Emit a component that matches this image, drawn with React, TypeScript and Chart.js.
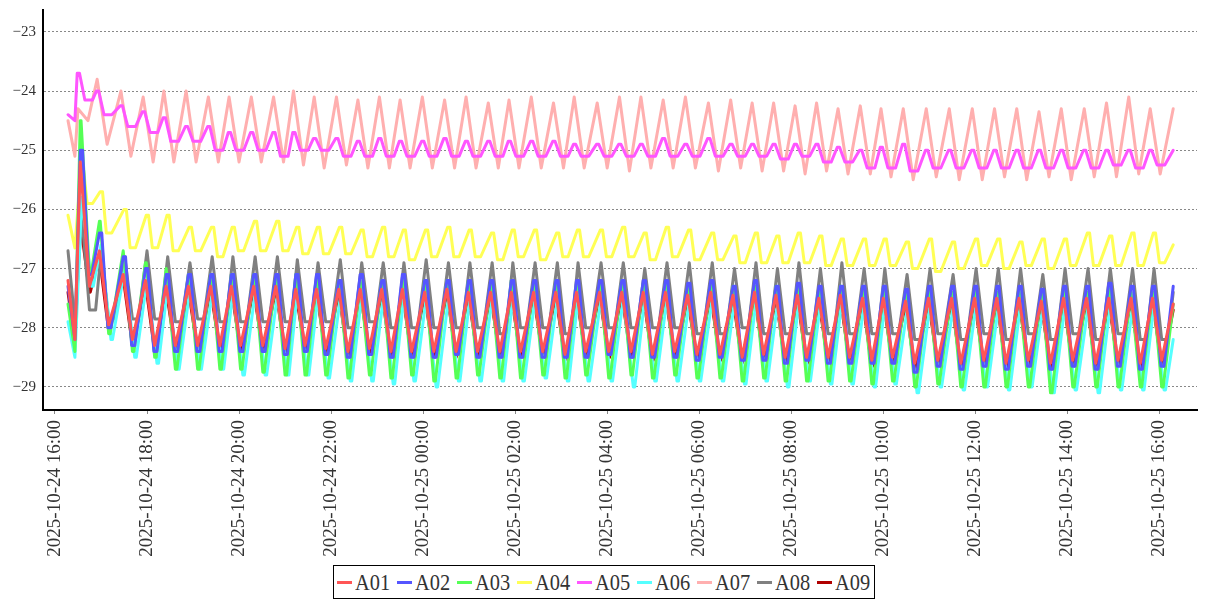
import React, { useEffect, useRef } from 'react';
import { Chart, registerables } from 'chart.js';

Chart.register(...registerables);

// ---- labels ----
const SERIES_NAMES = ['A01', 'A02', 'A03', 'A04', 'A05', 'A06', 'A07', 'A08', 'A09'];
const SERIES_COLORS = ['#ff5555', '#5555ff', '#55ff55', '#ffff55', '#ff55ff', '#55ffff', '#ffafaf', '#808080', '#b00000'];

// x values are minutes after 2025-10-24 16:00
const X_TICK_VALUES = [0, 120, 240, 360, 480, 600, 720, 840, 960, 1080, 1200, 1320, 1440];
const X_TICK_LABELS = [
  '2025-10-24 16:00', '2025-10-24 18:00', '2025-10-24 20:00', '2025-10-24 22:00',
  '2025-10-25 00:00', '2025-10-25 02:00', '2025-10-25 04:00', '2025-10-25 06:00',
  '2025-10-25 08:00', '2025-10-25 10:00', '2025-10-25 12:00', '2025-10-25 14:00',
  '2025-10-25 16:00',
];
const Y_TICK_VALUES = [-29, -28, -27, -26, -25, -24, -23];
const Y_TICK_LABELS = ['\u221229', '\u221228', '\u221227', '\u221226', '\u221225', '\u221224', '\u221223'];

// ---- time base: first two readings, one time per oscillation cycle, last reading ----
const START_TIMES = [17, 26];
const CYCLE_TIMES = [
  35, 60, 91, 120, 147, 176, 205, 232, 261, 290,
  316, 343, 372, 400, 428, 455, 484, 513, 541, 570,
  597, 626, 655, 682, 712, 741, 769, 798, 827, 857,
  886, 914, 942, 970, 998, 1026, 1055, 1082, 1111, 1141,
  1171, 1201, 1230, 1259, 1288, 1317, 1347, 1376, 1405, 1433,
];
const END_TIME = 1458;

// per-series timing of the crest / trough within a cycle (minutes): [crestFrom, crestTo, troughFrom, troughTo]
const A01_TIMING = [-2, -2, 10, 10];
const A02_TIMING = [-2, 1, 9, 13];
const A03_TIMING = [-2, -1, 10, 12];
const A04_TIMING = [-1, 2, 7, 14];
const A05_TIMING = [-6, -3, 4, 14];
const A06_TIMING = [0, 0, 13, 15];
const A07_TIMING = [-5, -5, 8, 8];
const A08_TIMING = [0, 0, 10, 18];
const A09_TIMING = [-2, -2, 10, 11];

// ---- values ----
const A01_START = [-27.2, -28.2];
const A01_HI = [
  -25.2, -26.7, -27.1, -27.2, -27.3, -27.3, -27.3, -27.3, -27.3, -27.3,
  -27.35, -27.35, -27.35, -27.35, -27.35, -27.35, -27.4, -27.35, -27.4, -27.4,
  -27.4, -27.4, -27.4, -27.4, -27.4, -27.4, -27.4, -27.4, -27.45, -27.4,
  -27.45, -27.4, -27.45, -27.45, -27.5, -27.45, -27.5, -27.5, -27.55, -27.5,
  -27.5, -27.5, -27.5, -27.5, -27.55, -27.5, -27.5, -27.5, -27.5, -27.5,
];
const A01_LO = [
  -27.3, -27.95, -28.2, -28.3, -28.3, -28.3, -28.3, -28.3, -28.3, -28.35,
  -28.3, -28.35, -28.4, -28.35, -28.4, -28.4, -28.4, -28.4, -28.4, -28.4,
  -28.4, -28.4, -28.45, -28.4, -28.4, -28.4, -28.45, -28.4, -28.45, -28.45,
  -28.5, -28.45, -28.5, -28.5, -28.5, -28.5, -28.55, -28.5, -28.6, -28.55,
  -28.6, -28.55, -28.6, -28.55, -28.6, -28.55, -28.6, -28.55, -28.6, -28.55,
];
const A01_END = -27.6;

const A02_START = [-27.3, -28.2];
const A02_HI = [
  -25.0, -26.4, -26.8, -27.0, -27.1, -27.1, -27.1, -27.1, -27.1, -27.1,
  -27.1, -27.1, -27.2, -27.1, -27.2, -27.1, -27.2, -27.2, -27.2, -27.2,
  -27.2, -27.2, -27.2, -27.2, -27.2, -27.2, -27.2, -27.2, -27.25, -27.2,
  -27.3, -27.2, -27.3, -27.25, -27.3, -27.3, -27.3, -27.3, -27.35, -27.3,
  -27.3, -27.3, -27.3, -27.3, -27.35, -27.3, -27.3, -27.25, -27.3, -27.3,
];
const A02_LO = [
  -27.1, -28.0, -28.3, -28.4, -28.4, -28.4, -28.4, -28.4, -28.4, -28.45,
  -28.4, -28.45, -28.5, -28.45, -28.5, -28.5, -28.5, -28.45, -28.5, -28.5,
  -28.5, -28.5, -28.5, -28.5, -28.45, -28.5, -28.5, -28.5, -28.55, -28.5,
  -28.55, -28.55, -28.6, -28.55, -28.6, -28.6, -28.6, -28.6, -28.75, -28.65,
  -28.7, -28.65, -28.7, -28.65, -28.7, -28.65, -28.7, -28.65, -28.7, -28.65,
];
const A02_END = -27.3;

const A03_START = [-27.6, -28.4];
const A03_HI = [
  -24.5, -26.2, -26.7, -26.9, -27.0, -27.1, -27.1, -27.1, -27.1, -27.15,
  -27.1, -27.2, -27.2, -27.2, -27.2, -27.2, -27.2, -27.2, -27.2, -27.25,
  -27.2, -27.25, -27.2, -27.25, -27.25, -27.2, -27.25, -27.25, -27.3, -27.25,
  -27.3, -27.3, -27.3, -27.3, -27.35, -27.3, -27.35, -27.35, -27.4, -27.35,
  -27.4, -27.35, -27.4, -27.35, -27.4, -27.35, -27.4, -27.35, -27.4, -27.4,
];
const A03_LO = [
  -27.1, -28.1, -28.4, -28.5, -28.7, -28.7, -28.7, -28.7, -28.75, -28.8,
  -28.8, -28.8, -28.85, -28.8, -28.85, -28.8, -28.9, -28.85, -28.8, -28.85,
  -28.85, -28.8, -28.85, -28.8, -28.85, -28.8, -28.85, -28.8, -28.85, -28.85,
  -28.9, -28.85, -28.9, -28.9, -28.9, -28.9, -28.95, -28.9, -29.0, -28.95,
  -29.0, -29.0, -29.0, -29.0, -29.1, -29.0, -29.0, -29.0, -29.0, -29.0,
];
const A03_END = -27.6;

const A04_START = [-26.1, -26.65];
const A04_HI = [
  -25.3, -25.7, -26.0, -26.1, -26.1, -26.3, -26.3, -26.3, -26.2, -26.2,
  -26.3, -26.3, -26.3, -26.35, -26.3, -26.35, -26.35, -26.3, -26.35, -26.4,
  -26.35, -26.35, -26.4, -26.35, -26.35, -26.3, -26.4, -26.3, -26.35, -26.4,
  -26.45, -26.4, -26.45, -26.4, -26.45, -26.5, -26.5, -26.5, -26.55, -26.5,
  -26.55, -26.5, -26.5, -26.55, -26.5, -26.5, -26.4, -26.45, -26.4, -26.4,
];
const A04_LO = [
  -25.9, -26.4, -26.65, -26.65, -26.7, -26.7, -26.8, -26.7, -26.7, -26.7,
  -26.75, -26.75, -26.75, -26.8, -26.8, -26.85, -26.8, -26.8, -26.8, -26.85,
  -26.8, -26.85, -26.8, -26.8, -26.8, -26.8, -26.85, -26.8, -26.85, -26.85,
  -26.9, -26.9, -26.9, -26.9, -26.95, -26.95, -26.95, -26.95, -27.0, -27.05,
  -27.0, -26.95, -27.0, -26.95, -27.0, -26.95, -26.95, -26.95, -26.95, -26.9,
];
const A04_END = -26.6;

const A05_START = [-24.4, -24.5];
const A05_HI = [
  -23.7, -24.0, -24.25, -24.35, -24.45, -24.6, -24.6, -24.7, -24.7, -24.7,
  -24.7, -24.8, -24.8, -24.85, -24.8, -24.85, -24.85, -24.8, -24.85, -24.85,
  -24.85, -24.85, -24.85, -24.9, -24.9, -24.9, -24.9, -24.8, -24.9, -24.8,
  -24.9, -24.9, -24.9, -24.9, -24.9, -24.95, -25.0, -24.95, -24.9, -25.0,
  -25.0, -25.0, -25.0, -25.0, -25.0, -25.0, -25.0, -25.0, -25.0, -25.0,
];
const A05_LO = [
  -24.15, -24.4, -24.6, -24.7, -24.85, -24.85, -25.0, -25.0, -25.0, -25.1,
  -25.0, -25.0, -25.1, -25.1, -25.1, -25.1, -25.1, -25.1, -25.1, -25.1,
  -25.1, -25.1, -25.1, -25.1, -25.1, -25.1, -25.1, -25.1, -25.1, -25.1,
  -25.1, -25.1, -25.15, -25.1, -25.2, -25.2, -25.3, -25.3, -25.35, -25.3,
  -25.3, -25.3, -25.3, -25.3, -25.3, -25.3, -25.3, -25.25, -25.3, -25.25,
];
const A05_END = -25.0;

const A06_START = [-27.9, -28.5];
const A06_HI = [
  -25.8, -26.6, -27.0, -27.2, -27.3, -27.35, -27.4, -27.4, -27.4, -27.45,
  -27.4, -27.45, -27.5, -27.45, -27.5, -27.45, -27.5, -27.5, -27.5, -27.5,
  -27.5, -27.5, -27.5, -27.5, -27.5, -27.5, -27.5, -27.5, -27.55, -27.5,
  -27.55, -27.55, -27.6, -27.55, -27.6, -27.55, -27.6, -27.6, -27.7, -27.6,
  -27.65, -27.6, -27.65, -27.6, -27.65, -27.6, -27.65, -27.6, -27.65, -27.6,
];
const A06_LO = [
  -27.3, -28.2, -28.5, -28.6, -28.7, -28.7, -28.7, -28.8, -28.8, -28.8,
  -28.8, -28.85, -28.9, -28.9, -28.95, -28.9, -29.0, -28.9, -28.9, -28.9,
  -28.9, -28.85, -28.9, -28.9, -28.9, -29.0, -28.9, -28.9, -28.9, -28.9,
  -28.95, -28.9, -29.0, -28.9, -28.95, -28.95, -29.0, -28.95, -29.1, -29.0,
  -29.05, -29.0, -29.05, -29.0, -29.1, -29.05, -29.1, -29.05, -29.05, -29.05,
];
const A06_END = -28.2;

const A07_START = [-24.5, -25.1];
const A07_HI = [
  -24.3, -23.8, -24.0, -24.1, -24.0, -24.0, -24.1, -24.1, -24.1, -24.1,
  -24.0, -24.1, -24.1, -24.15, -24.1, -24.15, -24.1, -24.15, -24.1, -24.2,
  -24.15, -24.1, -24.2, -24.1, -24.2, -24.1, -24.1, -24.15, -24.1, -24.2,
  -24.15, -24.2, -24.2, -24.25, -24.2, -24.3, -24.25, -24.3, -24.3, -24.3,
  -24.3, -24.3, -24.3, -24.3, -24.35, -24.3, -24.3, -24.2, -24.1, -24.3,
];
const A07_LO = [
  -24.5, -24.9, -25.1, -25.2, -25.2, -25.2, -25.2, -25.2, -25.2, -25.2,
  -25.25, -25.3, -25.25, -25.3, -25.3, -25.3, -25.3, -25.3, -25.3, -25.3,
  -25.3, -25.3, -25.3, -25.3, -25.3, -25.35, -25.3, -25.3, -25.3, -25.35,
  -25.3, -25.35, -25.35, -25.4, -25.35, -25.4, -25.4, -25.45, -25.5, -25.45,
  -25.5, -25.5, -25.45, -25.5, -25.45, -25.5, -25.45, -25.45, -25.4, -25.4,
];
const A07_END = -24.3;

const A08_START = [-26.7, -27.9];
const A08_HI = [
  -26.1, -26.75, -26.8, -26.7, -26.8, -26.9, -26.8, -26.8, -26.8, -26.8,
  -26.85, -26.9, -26.85, -26.9, -26.9, -26.9, -26.85, -26.9, -26.9, -26.9,
  -26.9, -26.9, -26.9, -26.9, -26.9, -26.9, -27.0, -26.9, -26.9, -26.9,
  -27.0, -26.9, -27.0, -26.9, -27.0, -26.9, -27.0, -27.0, -27.1, -27.0,
  -27.1, -27.0, -27.0, -27.0, -27.1, -27.0, -27.0, -27.0, -27.0, -27.0,
];
const A08_LO = [
  -27.7, -27.85, -27.85, -27.85, -27.9, -27.85, -27.9, -27.9, -27.9, -27.9,
  -27.9, -27.9, -28.0, -27.9, -28.0, -28.0, -28.0, -28.0, -28.0, -28.1,
  -28.0, -28.0, -28.1, -28.0, -28.0, -28.0, -28.0, -28.0, -28.1, -28.1,
  -28.0, -28.1, -28.1, -28.1, -28.1, -28.1, -28.1, -28.1, -28.2, -28.1,
  -28.2, -28.1, -28.2, -28.1, -28.2, -28.1, -28.2, -28.1, -28.2, -28.2,
];
const A08_END = -27.4;

const A09_START = [-27.4, -28.25];
const A09_HI = [
  -26.2, -26.8, -27.15, -27.25, -27.35, -27.35, -27.35, -27.35, -27.35, -27.35,
  -27.4, -27.4, -27.4, -27.4, -27.4, -27.4, -27.45, -27.4, -27.45, -27.45,
  -27.45, -27.45, -27.45, -27.45, -27.45, -27.45, -27.45, -27.45, -27.5, -27.45,
  -27.5, -27.45, -27.5, -27.5, -27.55, -27.5, -27.55, -27.55, -27.6, -27.55,
  -27.55, -27.55, -27.55, -27.55, -27.6, -27.55, -27.55, -27.55, -27.55, -27.55,
];
const A09_LO = [
  -27.4, -28.05, -28.3, -28.4, -28.4, -28.4, -28.4, -28.4, -28.4, -28.45,
  -28.4, -28.45, -28.5, -28.45, -28.5, -28.5, -28.5, -28.5, -28.5, -28.5,
  -28.5, -28.5, -28.55, -28.5, -28.5, -28.5, -28.55, -28.5, -28.55, -28.55,
  -28.6, -28.55, -28.6, -28.6, -28.6, -28.6, -28.65, -28.6, -28.7, -28.65,
  -28.7, -28.65, -28.7, -28.65, -28.7, -28.65, -28.7, -28.65, -28.7, -28.65,
];
const A09_END = -27.7;

type Pt = { x: number; y: number };

function buildPoints(start: number[], hi: number[], lo: number[], end: number, timing: number[]): Pt[] {
  const pts: Pt[] = [];
  START_TIMES.forEach((t, i) => pts.push({ x: t, y: start[i] }));
  CYCLE_TIMES.forEach((t, k) => {
    pts.push({ x: t + timing[0], y: hi[k] });
    if (timing[1] !== timing[0]) pts.push({ x: t + timing[1], y: hi[k] });
    pts.push({ x: t + timing[2], y: lo[k] });
    if (timing[3] !== timing[2]) pts.push({ x: t + timing[3], y: lo[k] });
  });
  pts.push({ x: END_TIME, y: end });
  return pts;
}

const SERIES_POINTS: Pt[][] = [
  buildPoints(A01_START, A01_HI, A01_LO, A01_END, A01_TIMING),
  buildPoints(A02_START, A02_HI, A02_LO, A02_END, A02_TIMING),
  buildPoints(A03_START, A03_HI, A03_LO, A03_END, A03_TIMING),
  buildPoints(A04_START, A04_HI, A04_LO, A04_END, A04_TIMING),
  buildPoints(A05_START, A05_HI, A05_LO, A05_END, A05_TIMING),
  buildPoints(A06_START, A06_HI, A06_LO, A06_END, A06_TIMING),
  buildPoints(A07_START, A07_HI, A07_LO, A07_END, A07_TIMING),
  buildPoints(A08_START, A08_HI, A08_LO, A08_END, A08_TIMING),
  buildPoints(A09_START, A09_HI, A09_LO, A09_END, A09_TIMING),
];

export default function App() {
  const canvasRef = useRef<HTMLCanvasElement | null>(null);

  useEffect(() => {
    const canvas = canvasRef.current;
    if (!canvas) return;
    const chart = new Chart(canvas, {
      type: 'line',
      data: {
        datasets: SERIES_NAMES.map((name, i) => ({
          label: name,
          data: SERIES_POINTS[i],
          borderColor: SERIES_COLORS[i],
          backgroundColor: SERIES_COLORS[i],
          borderWidth: 3,
          borderJoinStyle: 'round',
          borderCapStyle: 'round',
          pointRadius: 0,
          tension: 0,
          fill: false,
        })),
      },
      options: {
        animation: false,
        responsive: false,
        layout: { padding: { top: 10, right: 10, left: 0, bottom: 0 } },
        plugins: { legend: { display: false }, tooltip: { enabled: false } },
        scales: {
          x: {
            type: 'linear',
            min: -15.6,
            max: 1489,
            afterBuildTicks: (s: any) => {
              s.ticks = X_TICK_VALUES.map((v) => ({ value: v }));
            },
            afterFit: (s: any) => {
              s.height = 190;
              s.paddingLeft = 0;
              s.paddingRight = 0;
            },
            ticks: {
              autoSkip: false,
              minRotation: 90,
              maxRotation: 90,
              padding: 6,
              color: '#333',
              font: { family: '"Liberation Serif", serif', size: 19 },
              callback: (_v: any, idx: number) => X_TICK_LABELS[idx] ?? '',
            },
            grid: { drawOnChartArea: false, drawTicks: true, tickLength: 4, color: '#888' },
            border: { display: true, color: '#000', width: 2 },
          },
          y: {
            type: 'linear',
            min: -29.39,
            max: -22.63,
            afterBuildTicks: (s: any) => {
              s.ticks = Y_TICK_VALUES.map((v) => ({ value: v }));
            },
            afterFit: (s: any) => {
              s.width = 43;
              s.paddingTop = 0;
              s.paddingBottom = 0;
            },
            ticks: {
              padding: 7,
              color: '#333',
              font: { family: '"Liberation Serif", serif', size: 15 },
              callback: (_v: any, idx: number) => Y_TICK_LABELS[idx] ?? '',
            },
            grid: { drawTicks: false, color: '#888', lineWidth: 1 },
            border: { display: true, color: '#000', width: 2, dash: [2, 2] },
          },
        },
      } as any,
    });
    return () => chart.destroy();
  }, []);

  return (
    <div style={{ position: 'fixed', left: 0, top: 0, width: 1207, height: 600, background: '#fff' }}>
      <canvas ref={canvasRef} width={1207} height={600} style={{ width: 1207, height: 600, display: 'block' }} />
      <div
        style={{
          position: 'absolute',
          left: 333,
          top: 565,
          width: 540,
          height: 32,
          border: '1px solid #000',
          display: 'flex',
          alignItems: 'center',
          fontFamily: '"Liberation Serif", serif',
          fontSize: 24,
          color: '#333',
          background: '#fff',
          overflow: 'hidden',
        }}
      >
        {SERIES_NAMES.map((n, i) => (
          <div key={n} style={{ flex: '0 0 60px', minWidth: 0, width: 60, display: 'flex', alignItems: 'center', height: 32, overflow: 'visible' }}>
            <span style={{ display: 'inline-block', flex: '0 0 15px', width: 15, height: 3, background: SERIES_COLORS[i], marginLeft: 3, marginRight: 3 }} />
            <span style={{ display: 'inline-block', flex: '0 0 auto', transform: 'scaleX(0.85)', transformOrigin: 'left center', lineHeight: '32px', whiteSpace: 'nowrap' }}>{n}</span>
          </div>
        ))}
      </div>
    </div>
  );
}
